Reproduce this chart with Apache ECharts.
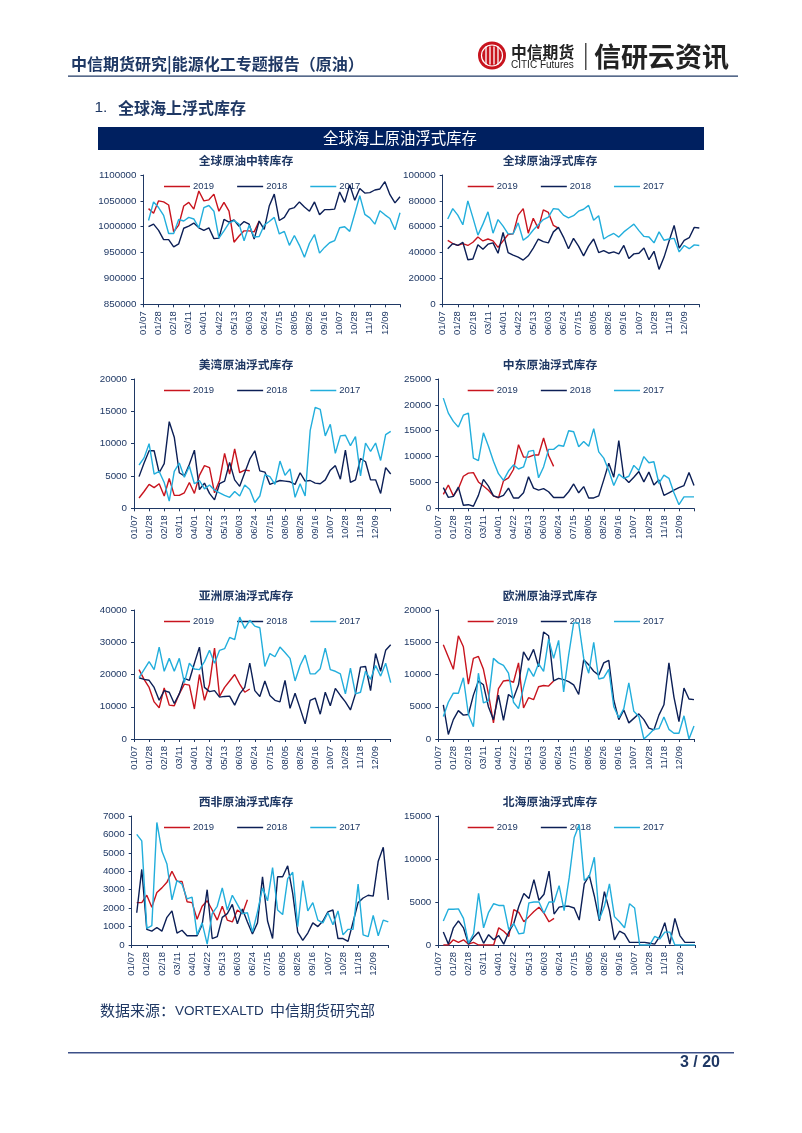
<!DOCTYPE html>
<html><head><meta charset="utf-8">
<style>html,body{margin:0;padding:0;background:#fff}#c{width:802px;height:1133px}</style>
<script src="https://cdn.jsdelivr.net/npm/echarts@6/dist/echarts.min.js"></script>
</head><body><div id="c"></div>
<script>
const categories = ['01/07','01/14','01/21','01/28','02/04','02/11','02/18','02/25','03/04','03/11','03/18','03/25','04/01','04/08','04/15','04/22','04/29','05/06','05/13','05/20','05/27','06/03','06/10','06/17','06/24','07/01','07/08','07/15','07/22','07/29','08/05','08/12','08/19','08/26','09/02','09/09','09/16','09/23','09/30','10/07','10/14','10/21','10/28','11/04','11/11','11/18','11/25','12/02','12/09','12/16','12/23','12/30'];
const seriesNames = ['2019','2018','2017'];
const transit2019 = [null,1035000,1026000,1050000,1048000,1042000,990000,1003000,1040000,1047000,1034000,1069000,1050000,1052000,1063000,1030000,1047000,1030000,970000,982000,992000,992000,990000,1011000];
const transit2018 = [null,1000000,1005000,993000,975000,975000,961000,967000,997000,1001000,1007000,998000,993000,998000,977000,978000,1014000,1009000,1013000,1001000,1010000,1005000,976000,1011000,995000,1040000,1063000,1012000,1018000,1034000,1037000,1048000,1038000,1030000,1048000,1023000,1033000,1033000,1034000,1067000,1047000,1081000,1051000,1074000,1065000,1066000,1071000,1073000,1087000,1062000,1046000,1058000];
const transit2017 = [null,1012000,1048000,1037000,1022000,987000,987000,1014000,1011000,1018000,1015000,998000,1037000,1041000,1030000,978000,992000,1007000,1012000,1005000,973000,1003000,980000,981000,1003000,1010000,1018000,986000,991000,964000,983000,964000,941000,968000,985000,949000,960000,969000,973000,998000,1000000,991000,1025000,1060000,1024000,1017000,1005000,1031000,1023000,1016000,994000,1027000];
const globe2019 = [null,49500,47000,45500,47000,45500,48000,52000,49000,50500,49000,44000,49000,54000,54500,69000,74000,55000,66500,58500,73000,71000,61000,59000];
const globe2018 = [null,43000,47000,45500,48000,34500,35000,46000,42500,46500,47500,39500,55500,40000,38000,36500,34200,37500,43500,50500,48500,47500,56000,59500,52000,43000,51000,45000,37500,45000,50500,40000,41500,39500,40500,39000,45500,35500,39000,39500,43500,34500,41000,27000,36500,49000,61000,43500,49500,51500,59500,59000];
const globe2017 = [null,66000,74000,69000,61500,80000,67000,53500,62000,71500,55000,65500,60500,54500,54500,63000,49500,52500,57500,61500,65500,67500,74000,73500,69000,66800,68500,72000,73500,76500,65000,68500,50500,53000,54800,52000,56000,59000,62000,57000,52500,52000,47500,56000,49500,50500,51000,40500,45500,43000,46000,45500];
const usgulf2019 = [null,1600,2600,3700,3200,3800,1900,4600,2000,2000,2400,4000,2300,5100,6600,6300,2400,4300,8500,5300,9200,5500,5900,5800];
const usgulf2018 = [null,4900,7000,8900,8900,5500,6900,13400,11000,5500,5000,6800,9000,2900,3900,2300,1300,3800,4200,7100,4400,3400,5500,7600,8900,5800,5600,3700,4000,4300,4200,4100,3700,5500,4200,4300,3900,3800,4400,5900,6600,4500,9000,4000,4400,7700,7200,4400,4400,2300,6300,5300];
const usgulf2017 = [null,6700,7800,10000,5300,5700,4000,1100,5700,7000,4800,6500,3800,4300,3000,3600,2800,2400,2000,1700,2600,1900,3600,2900,900,1900,5200,4900,3700,7300,5100,6100,1700,3800,1900,12000,15600,15300,11200,13000,8500,11200,11300,9700,11100,5000,10100,8800,10100,7400,11400,11900];
const mideast2019 = [null,2700,4500,2400,3800,6200,6800,6900,5100,4300,3500,2400,2000,5300,5900,7500,12300,9900,9900,10300,10300,13600,10200,8100];
const mideast2018 = [null,4000,2100,2300,4100,600,700,400,2500,5600,4300,2400,2100,2500,3900,2000,2000,3000,6100,3900,3500,3800,3200,2100,2100,2100,3200,4700,3000,4200,2000,2000,2400,5500,8700,6000,13100,6000,5000,6000,7100,5100,7000,4500,5500,2500,3000,3500,4000,4400,6900,4400];
const mideast2017 = [null,21300,18400,16800,15700,18000,18400,9700,9200,14600,12000,9100,6700,5400,7200,8400,7600,8000,11000,11200,5900,8000,11400,11400,12200,12000,15000,14800,11900,12900,12000,15400,10900,9700,7300,4400,6600,5800,6200,8300,7300,10000,8800,9000,4800,6400,5800,3000,700,2200,2200,2200];
const asia2019 = [null,21500,18500,16000,11500,9700,15800,10500,10300,14000,17000,16700,9300,20000,12000,17000,28200,13200,16000,18000,20000,17000,14500,15500];
const asia2018 = [null,19000,18500,18200,16000,12000,15000,14500,11000,14000,18800,18200,23500,28500,16000,14700,15000,13000,13200,13300,10500,14000,16000,23500,15000,13200,18000,13500,12000,11500,18200,9500,14200,9500,4700,12000,12700,7700,14500,10300,15700,13500,11500,9000,14000,22300,22500,15000,26500,21000,27500,29200];
const asia2017 = [null,19000,21500,24000,21500,28500,21000,25000,21000,25000,17500,23500,21700,21500,24000,27500,23500,27500,28000,31500,30800,37800,34300,36800,35000,34500,22500,26500,25500,28500,26800,25000,18000,22800,26000,20200,20200,21800,28200,21500,21000,20200,14000,22000,14000,14500,21000,18500,22800,19500,23500,17500];
const europe2019 = [null,14600,12700,10800,16000,14300,8500,12500,12800,10800,7000,2500,7800,9000,9100,8800,11800,4800,6400,6100,8100,8300,8200,9000];
const europe2018 = [null,5300,700,3000,4400,3700,3800,6800,9000,8400,5000,3000,6800,2900,6900,6300,8400,13500,12200,13900,11200,16600,16000,9000,9400,9200,8900,8400,6900,12300,11500,10500,9900,11800,12200,6000,3000,4500,2500,3200,3900,3000,1700,1400,3700,5300,11800,6500,2700,7900,6200,6100];
const europe2017 = [null,3500,5700,7100,7100,9500,3800,1900,10200,5600,5900,12500,11800,11400,10200,5700,4700,8000,11000,9700,11700,10500,15500,12500,15300,7300,13000,18000,18000,12500,10200,15000,9300,9500,10800,5000,3300,4700,8700,4300,3500,0,700,1500,1600,3400,1500,900,900,3600,0,2000];
const wafrica2019 = [null,2300,2300,2700,2050,2850,3100,3400,4000,3450,3450,2350,2300,1400,2100,2400,1900,1350,2100,1350,1250,1900,1700,2450];
const wafrica2018 = [null,1750,4100,850,750,950,750,1500,1850,650,800,500,500,500,1100,3000,350,450,1500,1700,2200,1150,1950,1250,600,1200,3700,1300,350,3700,3700,4300,2800,700,250,650,1200,1000,1300,1800,1900,350,350,200,1250,2300,2550,2700,2650,4550,5300,2450];
const wafrica2017 = [null,6000,5650,900,1050,6650,5100,4400,2450,3500,3300,2500,2600,550,1200,50,1700,2100,3100,1900,2700,2200,1700,1750,700,1800,3100,2400,4200,1900,1650,3600,3950,1000,3500,1850,2300,1350,1200,1750,1100,1850,550,850,850,3300,550,450,1600,500,1350,1250];
const northsea2019 = [null,0,0,600,300,600,100,300,0,0,0,0,2000,1600,1000,4100,3800,2700,3300,3900,4400,3700,2700,3100];
const northsea2018 = [null,1500,100,2000,2800,2000,100,900,1500,200,1200,600,1100,100,1500,2500,4500,6000,5400,7600,5200,5900,8600,3600,4400,4500,4500,4300,2900,7100,8100,5700,2800,6200,4000,600,1600,1300,300,300,300,300,200,100,1000,2600,100,3100,1100,300,300,300];
const northsea2017 = [null,2800,4150,4150,4200,3100,200,1300,6000,2000,3800,4800,4600,4600,1800,2500,1300,1400,4900,5000,5000,3700,5000,5000,6900,4000,7800,12500,14000,7500,8000,10200,3000,4500,7100,3300,2700,2000,4800,4300,0,0,0,1000,700,1500,1500,0,0,0,0,0];
const chartTitles = ['全球原油中转库存','全球原油浮式库存','美湾原油浮式库存','中东原油浮式库存','亚洲原油浮式库存','欧洲原油浮式库存','西非原油浮式库存','北海原油浮式库存'];

const NAVY='#1f3864', C19='#c8141e', C18='#0c1f56', C17='#22aedc';
const FONT='"Noto Sans CJK SC","Noto Sans",sans-serif', NUM='"Liberation Sans",Arial,sans-serif';
const panels=[
 {x0:143.5,x1:400,y0:175,y1:304.3,min:850000,max:1100000,step:50000,d:[transit2019,transit2018,transit2017],tx:246,ty:160.5,lx:164,ly:186},
 {x0:442.7,x1:699.3,y0:175,y1:304.3,min:0,max:100000,step:20000,d:[globe2019,globe2018,globe2017],tx:550,ty:160.5,lx:467.7,ly:186},
 {x0:134,x1:390.7,y0:379,y1:508.3,min:0,max:20000,step:5000,d:[usgulf2019,usgulf2018,usgulf2017],tx:246,ty:365,lx:164,ly:390},
 {x0:438.3,x1:694,y0:379,y1:508.3,min:0,max:25000,step:5000,d:[mideast2019,mideast2018,mideast2017],tx:550,ty:365,lx:467.7,ly:390},
 {x0:134,x1:390.7,y0:610,y1:739,min:0,max:40000,step:10000,d:[asia2019,asia2018,asia2017],tx:246,ty:596,lx:164,ly:621},
 {x0:438.3,x1:694,y0:610,y1:739,min:0,max:20000,step:5000,d:[europe2019,europe2018,europe2017],tx:550,ty:596,lx:467.7,ly:621},
 {x0:131.7,x1:388.3,y0:816,y1:945,min:0,max:7000,step:1000,d:[wafrica2019,wafrica2018,wafrica2017],tx:246,ty:802,lx:164,ly:827},
 {x0:438.3,x1:695,y0:816,y1:945,min:0,max:15000,step:5000,d:[northsea2019,northsea2018,northsea2017],tx:550,ty:802,lx:467.7,ly:827}
];
const grid=[],xAxis=[],yAxis=[],series=[],legend=[],graphic=[];
function text(x,y,s,size,color,opt){graphic.push({type:'text',x,y,silent:true,z:20,style:Object.assign({text:s,fontSize:size,fontFamily:FONT,fill:color,textAlign:'left',textVerticalAlign:'middle'},opt||{})});}
function rect(x,y,w,h,fill){graphic.push({type:'rect',silent:true,z:19,shape:{x,y,width:w,height:h},style:{fill}});}
panels.forEach((p,i)=>{
  grid.push({left:p.x0,top:p.y0,width:p.x1-p.x0,height:p.y1-p.y0,containLabel:false});
  const ax={lineStyle:{color:NAVY,width:1}};
  xAxis.push({gridIndex:i,type:'category',data:categories,boundaryGap:false,axisLine:Object.assign({show:true,onZero:false},ax),
    axisTick:{show:true,interval:2,length:3,lineStyle:{color:NAVY}},splitLine:{show:false},
    axisLabel:{rotate:90,interval:(idx)=>idx%3===0&&idx<=48,fontFamily:NUM,fontSize:9.5,color:NAVY,margin:7,hideOverlap:false}});
  yAxis.push({gridIndex:i,type:'value',min:p.min,max:p.max,interval:p.step,axisLine:Object.assign({show:true},ax),
    axisTick:{show:true,length:3,lineStyle:{color:NAVY}},splitLine:{show:false},
    axisLabel:{formatter:(v)=>String(v),fontFamily:NUM,fontSize:9.8,color:NAVY,margin:7,showMinLabel:true,showMaxLabel:true}});
  [C19,C18,C17].forEach((c,k)=>series.push({name:seriesNames[k],type:'line',xAxisIndex:i,yAxisIndex:i,data:p.d[k],
    symbol:'none',smooth:false,connectNulls:false,silent:true,z:3+k,lineStyle:{color:c,width:1.4},itemStyle:{color:c}}));
  legend.push({left:p.lx,top:p.ly-4.5,itemWidth:26,itemHeight:1.5,itemGap:23,z:1,selectedMode:false,padding:0,icon:'rect',
    data:seriesNames.map((n,k)=>({name:n,itemStyle:{color:[C19,C18,C17][k]}})),
    textStyle:{fontFamily:NUM,fontSize:9.5,color:NAVY,padding:[0,0,0,-2]}});
  text(p.tx,p.ty,chartTitles[i],11.8,NAVY,{textAlign:'center',fontWeight:'bold'});
});
// page furniture
text(71,64,'中信期货研究|能源化工专题报告（原油）',16,NAVY,{fontWeight:'bold'});
rect(68,75.6,670,1.2,NAVY);
text(94.5,108,'1.',15.5,NAVY,{fontFamily:NUM});
text(118,108,'全球海上浮式库存',16,NAVY,{fontWeight:'bold'});
rect(98,127,606,23,'#002060');
text(400,138.5,'全球海上原油浮式库存',15.4,'#ffffff',{textAlign:'center'});
text(100,1010,'数据来源：',15,NAVY);
text(175,1011,'VORTEXALTD',13.5,NAVY,{fontFamily:NUM});
text(270,1010,'中信期货研究部',15,NAVY);
rect(68,1052,666,1.4,'#3c5088');
text(720,1063,'3 / 20',16,NAVY,{textAlign:'right',fontFamily:NUM,fontWeight:'bold'});
// logo
graphic.push({type:'circle',silent:true,z:20,shape:{cx:492,cy:55.5,r:14},style:{fill:'#c8141e'}});
graphic.push({type:'circle',silent:true,z:21,shape:{cx:492,cy:55.5,r:10.5},style:{fill:'none',stroke:'#fff',lineWidth:1.2}});
[-6,-2,2,6].forEach(dx=>graphic.push({type:'line',silent:true,z:21,shape:{x1:492+dx,y1:46.5,x2:492+dx,y2:64.5},style:{stroke:'#fff',lineWidth:1.3}}));
text(511,51.7,'中信期货',15.8,'#222222',{fontWeight:'bold'});
text(511,65,'CITIC Futures',10,'#222222',{fontFamily:NUM});
rect(585.2,43,1.2,27,'#222222');
text(594,56.7,'信研云资讯',27,'#222222',{fontWeight:'bold'});

const chart=echarts.init(document.getElementById('c'),null,{renderer:'canvas'});
chart.setOption({animation:false,backgroundColor:'#fff',grid,xAxis,yAxis,series,legend,graphic:{elements:graphic}});
</script></body></html>
